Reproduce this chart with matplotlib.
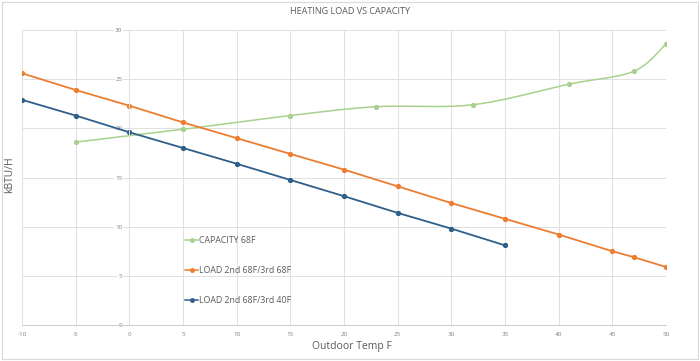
import numpy as np
import matplotlib
matplotlib.use("Agg")
import matplotlib.pyplot as plt
from matplotlib.lines import Line2D
from matplotlib.patches import Rectangle

title = "HEATING LOAD VS CAPACITY"
x_label = "Outdoor Temp F"
y_label = "kBTU/H"

cap_x = [-5, 5, 15, 23, 32, 41, 47, 50]
cap_y = [18.6, 19.9, 21.3, 22.2, 22.4, 24.5, 25.8, 28.6]

load68_x = [-10, -5, 0, 5, 10, 15, 20, 25, 30, 35, 40, 45, 47, 50]
load68_y = [25.6, 23.9, 22.3, 20.6, 19.0, 17.4, 15.8, 14.1, 12.4, 10.8, 9.2, 7.5, 6.9, 5.9]

load40_x = [-10, -5, 0, 5, 10, 15, 20, 25, 30, 35]
load40_y = [22.9, 21.3, 19.6, 18.0, 16.4, 14.75, 13.1, 11.4, 9.8, 8.1]

names = ["CAPACITY 68F", "LOAD 2nd 68F/3rd 68F", "LOAD 2nd 68F/3rd 40F"]
colors = ["#A9D18E", "#ED7D31", "#2E5F8A"]

x_ticks = list(range(-10, 55, 5))
y_ticks = list(range(0, 35, 5))


def smooth(xs, ys, n=30):
    # Excel-like Bezier smoothing through points
    P = np.column_stack([xs, ys]).astype(float)
    out = [P[0]]
    for i in range(len(P) - 1):
        p0 = P[i - 1] if i > 0 else P[i]
        p1 = P[i]
        p2 = P[i + 1]
        p3 = P[i + 2] if i + 2 < len(P) else P[i + 1]
        c1 = p1 + (p2 - p0) / 6.0
        c2 = p2 - (p3 - p1) / 6.0
        t = np.linspace(0, 1, n)[1:, None]
        seg = ((1 - t) ** 3) * p1 + 3 * ((1 - t) ** 2) * t * c1 + 3 * (1 - t) * t ** 2 * c2 + t ** 3 * p2
        out.extend(seg)
    out = np.array(out)
    return out[:, 0], out[:, 1]


plt.rcParams['font.family'] = ['Open Sans', 'DejaVu Sans']
plt.rcParams['axes.unicode_minus'] = False
fig = plt.figure(figsize=(7, 3.61), dpi=100)
fig.patches.append(Rectangle((0.003, 0.006), 0.994, 0.988, transform=fig.transFigure,
                             fill=False, edgecolor="#D9D9D9", linewidth=0.8))
ax = fig.add_axes([22 / 700, 1 - 325 / 361, 644 / 700, 295 / 361])

ax.set_xlim(-10, 50)
ax.set_ylim(0, 30)
ax.set_xticks(x_ticks)
ax.set_yticks(y_ticks)
ax.grid(True, color="#E0E0E0", linewidth=0.7)
ax.set_axisbelow(True)
for s in ["top", "right"]:
    ax.spines[s].set_visible(False)
ax.spines["left"].set_position(("data", 0))
ax.spines["left"].set_color("#E0E0E0")
ax.spines["left"].set_linewidth(0.7)
ax.spines["bottom"].set_color("#D0D0D0")
ax.spines["bottom"].set_linewidth(0.8)
ax.tick_params(length=0, labelsize=4.5, labelcolor="#808080", pad=5)
for lab in ax.get_yticklabels():
    lab.set_bbox(dict(facecolor="white", edgecolor="none", pad=0.5))

sx, sy = smooth(cap_x, cap_y)
ax.plot(sx, sy, color=colors[0], linewidth=1.1)
ax.plot(cap_x, cap_y, linestyle="none", marker="o", markersize=2.8, color=colors[0])
ax.plot(load68_x, load68_y, color=colors[1], linewidth=1.3, marker="o", markersize=2.8)
ax.plot(load40_x, load40_y, color=colors[2], linewidth=1.3, marker="o", markersize=2.8)

handles = [Line2D([], [], color=c, marker="o", markersize=2.5, linewidth=1.1) for c in colors]
ax.legend(handles, names, loc="upper left", bbox_to_anchor=(0.248, 0.315), frameon=False,
          fontsize=6.3, labelspacing=2.45, handlelength=1.5, handletextpad=0.1,
          labelcolor="#595959", borderaxespad=0)

fig.text(0.5, 1 - 12 / 361, title, ha="center", va="center", fontsize=6.5, color="#595959")
fig.text(10 / 700, 1 - 175 / 361, y_label, rotation=90, ha="center", va="center", fontsize=7.5, color="#595959")
fig.text(352 / 700, 1 - 347 / 361, x_label, ha="center", va="center", fontsize=7.5, color="#595959")

fig.savefig("out.png", dpi=100)
